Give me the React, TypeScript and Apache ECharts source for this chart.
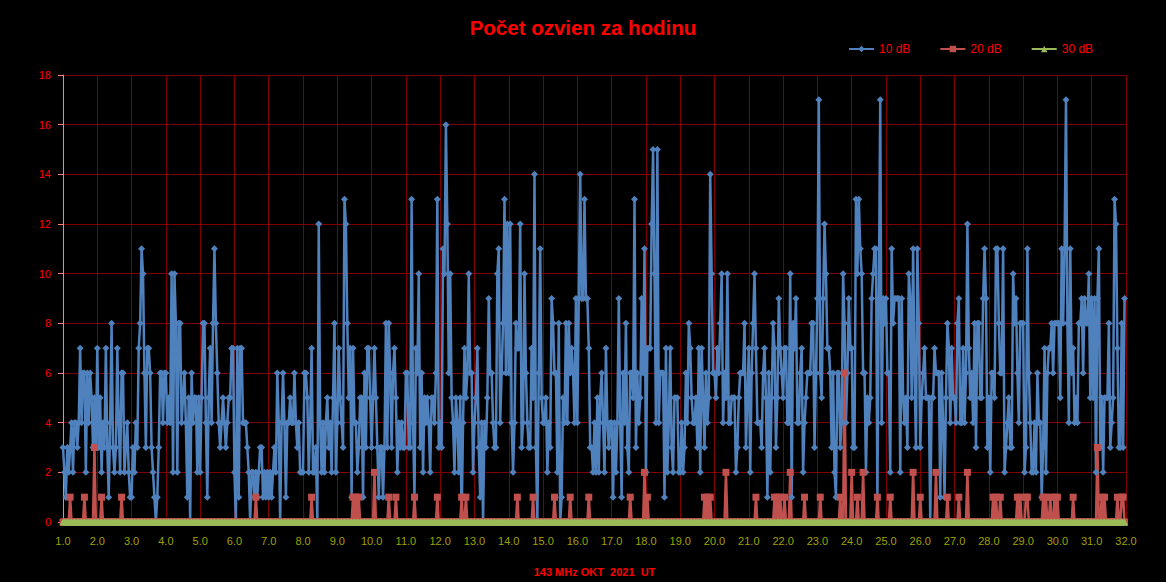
import React, { useEffect, useRef } from "react";
import * as echarts from "echarts";

// Hourly echo counts, one row per day (hours 0..23), October 2021
const blueDays: number[][] = [
  [3,2,1,3,2,3,4,2,4,4,3,4,7,4,6,6,2,6,4,6,5,3,5,3],
  [7,3,5,2,4,3,7,3,1,4,8,3,2,3,7,4,2,6,6,2,3,4,2,1],
  [1,3,2,4,3,7,8,11,10,6,3,7,7,6,3,2,1,0,1,3,6,6,4,6],
  [6,4,5,4,10,2,10,8,2,8,8,4,5,6,4,1,5,0,6,4,5,5,2,5],
  [2,5,8,8,4,1,5,7,4,8,11,8,6,4,3,4,5,4,3,4,5,5,7,7],
  [2,0,7,1,7,7,4,4,4,3,2,0,2,2,1,2,1,2,3,3,1,2,1,2],
  [1,2,1,2,3,2,6,4,0,4,6,4,1,4,4,5,4,4,6,4,3,4,2,2],
  [2,6,6,5,2,4,7,2,2,3,0,12,4,2,4,2,4,5,3,4,2,5,8,2],
  [4,7,5,4,3,13,12,8,5,7,1,7,4,4,2,3,5,5,1,6,3,7,7,5],
  [3,5,7,5,3,1,3,3,1,3,8,3,8,6,3,6,7,5,2,4,3,4,3,3],
  [6,6,3,3,13,4,1,7,6,10,3,6,2,5,4,5,4,2,5,5,4,6,13,3],
  [4,3,11,10,16,12,6,10,5,4,2,5,4,2,5,0,4,7,5,6,10,6,6,2],
  [4,5,7,3,1,4,0,4,3,5,9,6,6,4,3,3,10,11,4,6,8,13,6,12],
  [6,12,4,2,4,8,7,7,12,3,4,10,6,4,3,3,7,5,14,3,0,6,11,5],
  [4,4,5,2,4,3,9,8,6,6,2,8,0,1,5,4,8,4,8,6,7,6,4,9],
  [4,9,14,9,9,13,9,9,7,3,3,2,4,2,5,2,5,6,4,2,7,4,3,4],
  [4,1,4,2,4,9,4,1,6,4,8,3,2,6,6,5,13,3,6,4,5,9,6,11],
  [2,7,7,7,12,15,10,4,15,4,6,6,6,1,7,2,4,7,3,2,5,5,5,2],
  [2,4,2,3,6,4,8,7,5,4,4,5,3,7,2,7,5,3,6,4,5,14,10,6],
  [6,5,7,6,8,10,4,6,5,10,4,4,5,5,5,2,3,5,6,6,6,8,3,5],
  [7,2,6,8,10,7,4,4,4,3,6,7,5,1,6,2,5,8,7,3,5,9,7,6],
  [5,7,7,4,4,10,1,8,7,9,4,4,6,7,2,4,5,6,6,6,8,8,3,6],
  [9,17,6,5,9,12,10,7,7,6,3,6,2,1,6,6,3,4,10,8,4,6,9,7],
  [7,3,3,13,10,13,11,10,6,6,2,5,4,5,9,10,11,11,1,9,17,4,9,8],
  [9,6,6,2,11,8,9,9,9,9,2,9,5,4,5,3,10,9,5,11,6,3,11,8],
  [3,5,6,7,5,5,5,0,5,5,7,6,6,6,1,6,4,1,5,8,7,4,7,5],
  [5,4,8,9,4,4,7,4,6,12,7,5,6,4,8,3,8,8,5,5,9,11,9,3],
  [5,2,6,6,5,11,11,8,6,6,11,2,3,4,5,3,3,10,8,9,6,4,8,8],
  [8,2,3,11,6,4,2,2,4,2,6,4,4,1,3,7,2,6,7,7,8,6,8,8],
  [8,8,5,11,8,11,17,8,4,11,6,7,4,5,4,8,8,9,6,9,8,8,10,5],
  [9,5,9,2,9,11,3,5,2,5,5,5,8,3,4,5,13,12,7,3,3,8,3,9],
];

const redDays: number[][] = [
  [0,0,0,0,0,1,0,0,0,0,0,0,0,0,0,1,0,0,0,0,0,0,3,0],
  [0,0,0,1,0,0,0,0,0,0,0,0,0,0,0,0,0,1,0,0,0,0,0,0],
  [0,0,0,0,0,0,0,0,0,0,0,0,0,0,0,0,0,0,0,0,0,0,0,0],
  [0,0,0,0,0,0,0,0,0,0,0,0,0,0,0,0,0,0,0,0,0,0,0,0],
  [0,0,0,0,0,0,0,0,0,0,0,0,0,0,0,0,0,0,0,0,0,0,0,0],
  [0,0,0,0,0,0,0,0,0,0,0,0,0,0,0,1,0,0,0,0,0,0,0,0],
  [0,0,0,0,0,0,0,0,0,0,0,0,0,0,0,0,0,0,0,0,0,0,0,0],
  [0,0,0,0,0,0,1,0,0,0,0,0,0,0,0,0,0,0,0,0,0,0,0,0],
  [0,0,0,0,0,0,0,0,0,0,0,1,0,1,0,1,0,0,0,0,0,0,0,0],
  [0,0,2,0,0,0,0,0,0,0,0,0,1,0,0,0,0,1,0,0,0,0,0,0],
  [0,0,0,0,0,0,1,0,0,0,0,0,0,0,0,0,0,0,0,0,0,0,1,0],
  [0,0,0,0,0,0,0,0,0,0,0,0,0,0,0,1,0,0,1,0,0,0,0,0],
  [0,0,0,0,0,0,0,0,0,0,0,0,0,0,0,0,0,0,0,0,0,0,0,0],
  [0,0,0,0,0,0,1,0,0,0,0,0,0,0,0,0,0,1,0,0,0,0,0,0],
  [0,0,0,0,0,0,0,0,1,0,0,0,0,0,0,0,0,0,0,1,0,0,0,0],
  [0,0,0,0,0,0,0,0,1,0,0,0,0,0,0,0,0,0,0,0,0,0,0,0],
  [0,0,0,0,0,0,0,0,0,0,0,0,0,1,0,0,0,0,0,0,0,0,0,2],
  [0,1,0,0,0,0,0,0,0,0,0,0,0,0,0,0,0,0,0,0,0,0,0,0],
  [0,0,0,0,0,0,0,0,0,0,0,0,0,0,0,0,0,1,0,1,0,1,0,0],
  [0,0,0,0,0,0,0,0,2,0,0,0,0,0,0,0,0,0,0,0,0,0,0,0],
  [0,0,0,0,0,1,0,0,0,0,0,0,0,0,0,0,0,0,1,0,1,0,1,0],
  [0,1,0,0,0,2,0,0,0,0,0,0,0,0,0,1,0,0,0,0,0,0,0,0],
  [0,0,1,0,0,0,0,0,0,0,0,0,0,0,0,0,1,0,0,6,0,0,0,0],
  [2,0,0,0,1,0,0,0,2,0,0,0,0,0,0,0,0,0,1,0,0,0,0,0],
  [0,0,0,1,0,0,0,0,0,0,0,0,0,0,0,0,0,0,0,2,0,0,0,0],
  [1,0,0,0,0,0,0,0,0,0,0,2,0,0,0,0,0,0,0,1,0,0,0,0],
  [0,0,0,1,0,0,0,0,0,2,0,0,0,0,0,0,0,0,0,0,0,0,0,0],
  [0,0,0,1,0,1,0,0,1,0,0,0,0,0,0,0,0,0,0,0,1,0,1,0],
  [0,0,1,1,0,0,0,0,0,0,0,0,0,0,1,0,1,0,0,1,0,0,1,0],
  [1,0,0,0,0,0,0,0,0,0,0,1,0,0,0,0,0,0,0,0,0,0,0,0],
  [0,0,0,0,3,0,0,1,0,1,0,0,0,0,0,0,0,0,1,0,0,1,1,0],
];

const greenDays: number[][] = [
  [0,0,0,0,0,0,0,0,0,0,0,0,0,0,0,0,0,0,0,0,0,0,0,0],
  [0,0,0,0,0,0,0,0,0,0,0,0,0,0,0,0,0,0,0,0,0,0,0,0],
  [0,0,0,0,0,0,0,0,0,0,0,0,0,0,0,0,0,0,0,0,0,0,0,0],
  [0,0,0,0,0,0,0,0,0,0,0,0,0,0,0,0,0,0,0,0,0,0,0,0],
  [0,0,0,0,0,0,0,0,0,0,0,0,0,0,0,0,0,0,0,0,0,0,0,0],
  [0,0,0,0,0,0,0,0,0,0,0,0,0,0,0,0,0,0,0,0,0,0,0,0],
  [0,0,0,0,0,0,0,0,0,0,0,0,0,0,0,0,0,0,0,0,0,0,0,0],
  [0,0,0,0,0,0,0,0,0,0,0,0,0,0,0,0,0,0,0,0,0,0,0,0],
  [0,0,0,0,0,0,0,0,0,0,0,0,0,0,0,0,0,0,0,0,0,0,0,0],
  [0,0,0,0,0,0,0,0,0,0,0,0,0,0,0,0,0,0,0,0,0,0,0,0],
  [0,0,0,0,0,0,0,0,0,0,0,0,0,0,0,0,0,0,0,0,0,0,0,0],
  [0,0,0,0,0,0,0,0,0,0,0,0,0,0,0,0,0,0,0,0,0,0,0,0],
  [0,0,0,0,0,0,0,0,0,0,0,0,0,0,0,0,0,0,0,0,0,0,0,0],
  [0,0,0,0,0,0,0,0,0,0,0,0,0,0,0,0,0,0,0,0,0,0,0,0],
  [0,0,0,0,0,0,0,0,0,0,0,0,0,0,0,0,0,0,0,0,0,0,0,0],
  [0,0,0,0,0,0,0,0,0,0,0,0,0,0,0,0,0,0,0,0,0,0,0,0],
  [0,0,0,0,0,0,0,0,0,0,0,0,0,0,0,0,0,0,0,0,0,0,0,0],
  [0,0,0,0,0,0,0,0,0,0,0,0,0,0,0,0,0,0,0,0,0,0,0,0],
  [0,0,0,0,0,0,0,0,0,0,0,0,0,0,0,0,0,0,0,0,0,0,0,0],
  [0,0,0,0,0,0,0,0,0,0,0,0,0,0,0,0,0,0,0,0,0,0,0,0],
  [0,0,0,0,0,0,0,0,0,0,0,0,0,0,0,0,0,0,0,0,0,0,0,0],
  [0,0,0,0,0,0,0,0,0,0,0,0,0,0,0,0,0,0,0,0,0,0,0,0],
  [0,0,0,0,0,0,0,0,0,0,0,0,0,0,0,0,0,0,0,0,0,0,0,0],
  [0,0,0,0,0,0,0,0,0,0,0,0,0,0,0,0,0,0,0,0,0,0,0,0],
  [0,0,0,0,0,0,0,0,0,0,0,0,0,0,0,0,0,0,0,0,0,0,0,0],
  [0,0,0,0,0,0,0,0,0,0,0,0,0,0,0,0,0,0,0,0,0,0,0,0],
  [0,0,0,0,0,0,0,0,0,0,0,0,0,0,0,0,0,0,0,0,0,0,0,0],
  [0,0,0,0,0,0,0,0,0,0,0,0,0,0,0,0,0,0,0,0,0,0,0,0],
  [0,0,0,0,0,0,0,0,0,0,0,0,0,0,0,0,0,0,0,0,0,0,0,0],
  [0,0,0,0,0,0,0,0,0,0,0,0,0,0,0,0,0,0,0,0,0,0,0,0],
  [0,0,0,0,0,0,0,0,0,0,0,0,0,0,0,0,0,0,0,0,0,0,0,0],
];

const seriesNames = ["10 dB", "20 dB", "30 dB"];
const titleText = "Počet ozvien za hodinu";
const xAxisTitle = "143 MHz OKT  2021  UT";
const firstDay = 1;

const toPoints = (days: number[][]) =>
  days.flatMap((row, d) => row.map((v, h) => [firstDay + d + h / 24, v]));

export default function App() {
  const ref = useRef<HTMLDivElement>(null);
  useEffect(() => {
    if (!ref.current) return;
    const chart = echarts.init(ref.current, null, { renderer: "svg" });
    const font = "Liberation Sans";
    chart.setOption({
      animation: false,
      backgroundColor: "#000000",
      title: {
        text: titleText,
        left: "center",
        top: 12,
        textStyle: { color: "#ff0000", fontSize: 20.5, fontWeight: "bold", fontFamily: font },
      },
      legend: {
        left: 843,
        top: 38,
        itemWidth: 25,
        itemHeight: 8,
        itemGap: 29,
        textStyle: { color: "#ff0000", fontSize: 12, fontFamily: font },
        data: seriesNames,
      },
      grid: { left: 63, right: 40, top: 75, bottom: 60, containLabel: false },
      xAxis: {
        type: "value",
        min: 1,
        max: 32,
        interval: 1,
        name: xAxisTitle,
        nameLocation: "middle",
        nameGap: 44,
        nameTextStyle: { color: "#ff0000", fontSize: 11, fontWeight: "bold", fontFamily: font },
        axisLine: { show: true, onZero: false, lineStyle: { color: "#c0c080", width: 1 } },
        axisTick: { show: true, length: 4, lineStyle: { color: "#c0c080" } },
        axisLabel: {
          color: "#a0a000",
          fontSize: 11,
          fontFamily: font,
          margin: 13,
          formatter: (v: number) => v.toFixed(1),
        },
        splitLine: { show: true, lineStyle: { color: "#800000", width: 1 } },
      },
      yAxis: {
        type: "value",
        min: 0,
        max: 18,
        interval: 2,
        axisLine: { show: true, lineStyle: { color: "#ff8080", width: 1 } },
        axisTick: { show: true, length: 5, lineStyle: { color: "#ff8080" } },
        axisLabel: { color: "#ff0000", fontSize: 11, fontFamily: font, margin: 12 },
        splitLine: { show: true, lineStyle: { color: "#800000", width: 1 } },
      },
      series: [
        {
          name: seriesNames[0],
          type: "line",
          data: toPoints(blueDays),
          symbol: "diamond",
          symbolSize: 7,
          itemStyle: { color: "#4F81BD" },
          lineStyle: { color: "#4F81BD", width: 2.5 },
        },
        {
          name: seriesNames[1],
          type: "line",
          data: toPoints(redDays),
          symbol: "rect",
          symbolSize: 7,
          itemStyle: { color: "#C0504D" },
          lineStyle: { color: "#C0504D", width: 2.5 },
        },
        {
          name: seriesNames[2],
          type: "line",
          data: toPoints(greenDays),
          symbol: "triangle",
          symbolSize: 7,
          itemStyle: { color: "#9BBB59" },
          lineStyle: { color: "#9BBB59", width: 3 },
        },
      ],
    });
    return () => chart.dispose();
  }, []);
  return (
    <div
      ref={ref}
      style={{ position: "fixed", left: 0, top: 0, width: 1166, height: 582 }}
    />
  );
}
